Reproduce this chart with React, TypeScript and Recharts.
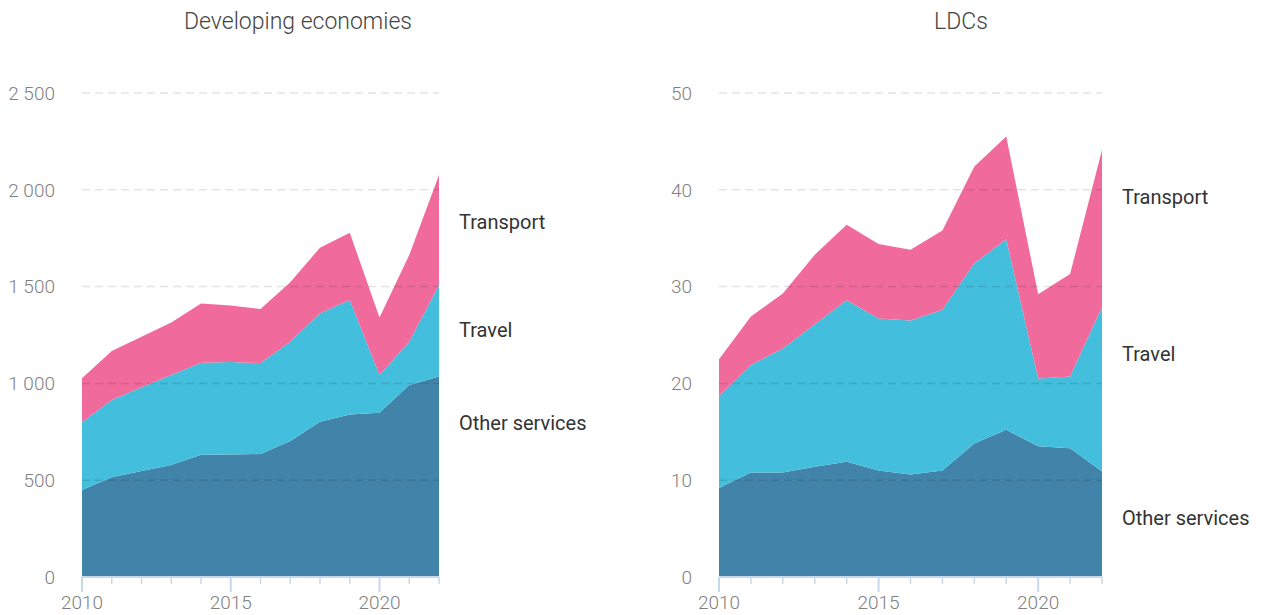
import { AreaChart, Area, XAxis, YAxis, ReferenceLine } from "recharts";

const years = [2010, 2011, 2012, 2013, 2014, 2015, 2016, 2017, 2018, 2019, 2020, 2021, 2022];

// Developing economies (billions of US$)
const devOther = [449, 515, 547, 578, 631, 633, 635, 702, 802, 840, 849, 992, 1035];
const devTravel = [350, 399, 433, 465, 476, 477, 470, 513, 560, 591, 194, 223, 473];
const devTransport = [227, 253, 261, 272, 306, 293, 279, 307, 339, 347, 298, 448, 568];
const devTicks = [0, 500, 1000, 1500, 2000, 2500];

// LDCs
const ldcOther = [9.2, 10.8, 10.8, 11.4, 11.9, 11.0, 10.6, 11.0, 13.8, 15.2, 13.5, 13.3, 10.9];
const ldcTravel = [9.5, 11.1, 12.8, 14.7, 16.7, 15.7, 15.9, 16.6, 18.6, 19.7, 7.0, 7.4, 17.0];
const ldcTransport = [3.8, 5.0, 5.7, 7.2, 7.8, 7.7, 7.3, 8.2, 10.0, 10.6, 8.7, 10.6, 16.2];
const ldcTicks = [0, 10, 20, 30, 40, 50];

const seriesNames = ["Other services", "Travel", "Transport"];
const colors = ["#4284a9", "#43bedd", "#f06a9b"];

const FONT = "Roboto, 'Noto Sans', sans-serif";
const AXIS = "#c6d9ec";

function buildRows(other: number[], travel: number[], transport: number[]) {
  return years.map((year, i) => ({
    year,
    other: other[i],
    travel: travel[i],
    transport: transport[i],
  }));
}

const fmt = (v: number) => String(v).replace(/\B(?=(\d{3})+(?!\d))/g, " ");

function YearTick(props: any) {
  const { x, y, payload } = props;
  const major = payload.value % 5 === 0;
  return (
    <g>
      <line x1={x} x2={x} y1={y} y2={y + (major ? 15 : 7)} stroke={AXIS} strokeWidth={major ? 2 : 1.5} />
      {major && (
        <text x={x} y={y + 32} textAnchor="middle" fill="#808080" fontSize={19} fontWeight={300} fontFamily={FONT}>
          {payload.value}
        </text>
      )}
    </g>
  );
}

function Panel({
  left,
  width,
  title,
  titleX,
  rows,
  ticks,
  labels,
}: {
  left: number;
  width: number;
  title: string;
  titleX: number;
  rows: any[];
  ticks: number[];
  labels: { x: number; y: number[] };
}) {
  const keys = ["other", "travel", "transport"];
  return (
    <>
      <div
        style={{
          position: "absolute",
          left: titleX - 200,
          width: 400,
          top: 8,
          textAlign: "center",
          fontFamily: FONT,
          fontWeight: 300,
          fontSize: 23,
          color: "#444",
        }}
      >
        {title}
      </div>
      <div style={{ position: "absolute", left, top: 0 }}>
        <AreaChart width={width} height={615} data={rows} margin={{ top: 93, right: 11, left: 0, bottom: 8 }}>
          <XAxis
            dataKey="year"
            type="number"
            domain={[years[0], years[years.length - 1]]}
            ticks={years}
            interval={0}
            height={30}
            tickSize={0}
            tickMargin={0}
            tickLine={false}
            axisLine={{ stroke: AXIS, strokeWidth: 2 }}
            tick={<YearTick />}
          />
          <YAxis
            width={82}
            domain={[ticks[0], ticks[ticks.length - 1]]}
            ticks={ticks}
            interval={0}
            axisLine={false}
            tickLine={false}
            tickMargin={21}
            tickFormatter={fmt}
            tick={{ fill: "#808080", fontSize: 19, fontWeight: 300, fontFamily: FONT }}
          />
          {keys.map((k, i) => (
            <Area
              key={k}
              type="linear"
              dataKey={k}
              name={seriesNames[i]}
              stackId="1"
              stroke="none"
              fill={colors[i]}
              fillOpacity={1}
              isAnimationActive={false}
            />
          ))}
          {ticks.slice(1).map((t) => (
            <ReferenceLine key={t} y={t} stroke="rgba(0,0,0,0.11)" strokeWidth={1.5} strokeDasharray="8 5" />
          ))}
        </AreaChart>
      </div>
      {seriesNames.map((name, i) => (
        <div
          key={name}
          style={{
            position: "absolute",
            left: labels.x,
            top: labels.y[i] - 12,
            fontFamily: FONT,
            fontSize: 20,
            color: "#333",
            whiteSpace: "nowrap",
          }}
        >
          {name}
        </div>
      ))}
    </>
  );
}

export default function App() {
  return (
    <div style={{ position: "absolute", left: 0, top: 0, width: 1268, height: 615, background: "#fff", overflow: "hidden" }}>
      <Panel
        left={0}
        width={450}
        title="Developing economies"
        titleX={298}
        rows={buildRows(devOther, devTravel, devTransport)}
        ticks={devTicks}
        labels={{ x: 459, y: [423, 330, 222] }}
      />
      <Panel
        left={637}
        width={476}
        title="LDCs"
        titleX={961}
        rows={buildRows(ldcOther, ldcTravel, ldcTransport)}
        ticks={ldcTicks}
        labels={{ x: 1122, y: [518, 354, 197] }}
      />
    </div>
  );
}
